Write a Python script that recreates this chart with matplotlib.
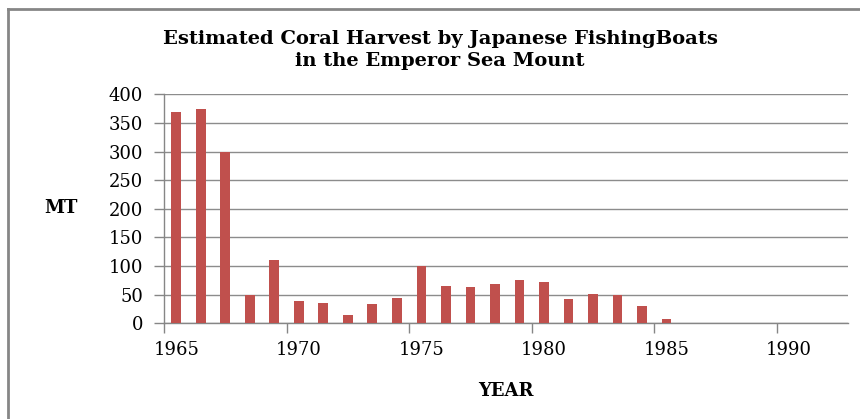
import matplotlib
matplotlib.use("Agg")
import matplotlib.pyplot as plt
from matplotlib.lines import Line2D

# ── Data ───────────────────────────────────────────────────────────────────────
years = [1965, 1966, 1967, 1968, 1969, 1970, 1971, 1972, 1973, 1974, 1975,
         1976, 1977, 1978, 1979, 1980, 1981, 1982, 1983, 1984, 1985]
harvest_mt = [369, 374, 300, 50, 111, 39, 36, 15, 34, 44, 100,
              66, 63, 68, 75, 73, 43, 51, 50, 31, 7]
x_ticks = [1965, 1970, 1975, 1980, 1985, 1990]
y_ticks = [0, 50, 100, 150, 200, 250, 300, 350, 400]

title = "Estimated Coral Harvest by Japanese FishingBoats\nin the Emperor Sea Mount"

# ── Plot ───────────────────────────────────────────────────────────────────────
plt.rcParams["font.family"] = ["DejaVu Serif"]

fig = plt.figure(figsize=(8.6, 4.19), dpi=100)
ax = fig.add_axes([164 / 860, 1 - 323.3 / 419, (848 - 164) / 860, (323.3 - 94.3) / 419])

bar_color = "#C0504D"
ax.bar([y + 0.5 for y in years], harvest_mt, width=0.4, color=bar_color, zorder=3)

ax.set_xlim(1965, 1992.9)
ax.set_ylim(0, 400)

# tick marks sit on the year boundary, labels are centred on the year slot
ax.set_xticks(x_ticks)
ax.set_xticklabels([])
ax.set_xticks([t + 0.5 for t in x_ticks], labels=[str(t) for t in x_ticks], minor=True)
ax.tick_params(axis="x", which="major", direction="out", length=7, width=1, color="#868686")
ax.tick_params(axis="x", which="minor", length=0, labelsize=13, pad=13)

ax.set_yticks(y_ticks)
ax.tick_params(axis="y", direction="out", length=7, width=1, color="#868686",
               labelsize=13, pad=8)

ax.grid(axis="y", which="major", color="#8c8c8c", linewidth=1, zorder=0)
for side in ("top", "right"):
    ax.spines[side].set_visible(False)
for side in ("left", "bottom"):
    ax.spines[side].set_color("#868686")
    ax.spines[side].set_linewidth(1)

ax.set_xlabel("YEAR", fontsize=13, fontweight="bold", labelpad=16)
fig.text(61 / 860, 1 - 208 / 419, "MT", fontsize=13, fontweight="bold",
         ha="center", va="center")

fig.text(440 / 860, 1 - 50 / 419, title, fontsize=14, fontweight="bold",
         ha="center", va="center", linespacing=1.25)

# outer chart border (left and top only visible)
border = "#868686"
fig.add_artist(Line2D([8 / 860, 8 / 860], [0, 1 - 9.5 / 419], transform=fig.transFigure,
                      color=border, linewidth=2))
fig.add_artist(Line2D([8 / 860, 1], [1 - 9.5 / 419, 1 - 9.5 / 419], transform=fig.transFigure,
                      color=border, linewidth=2))

fig.savefig("out.png", dpi=100)
plt.close(fig)
